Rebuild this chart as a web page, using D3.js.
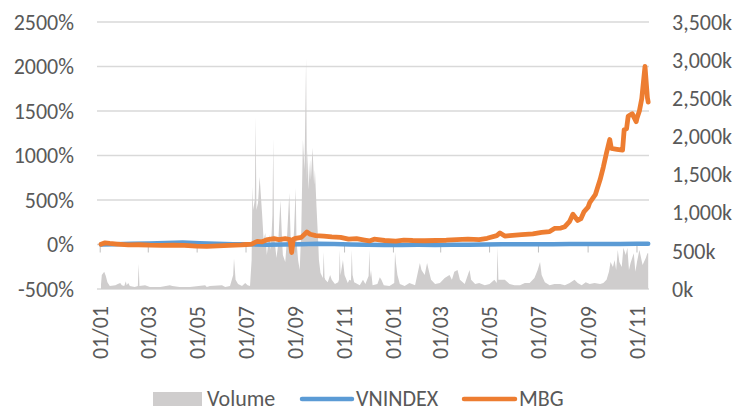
<!DOCTYPE html>
<html><head><meta charset="utf-8">
<script src="https://cdn.jsdelivr.net/npm/d3@7"></script>
<style>
html,body{margin:0;padding:0;background:#fff;}
svg{display:block;}
text{font-family:Carlito, Calibri, Lato, sans-serif;fill:#595959;}
</style></head>
<body><svg id="c" width="739" height="412"></svg>
<script>
// ---------- DATA ----------
const leftTicks = [-500, 0, 500, 1000, 1500, 2000, 2500];           // %
const rightTicks = [0, 500, 1000, 1500, 2000, 2500, 3000, 3500];    // k
const seriesNames = ["Volume", "VNINDEX", "MBG"];

const volDates = ["2020-01-02","2020-01-03","2020-01-06","2020-01-08","2020-01-10","2020-01-13","2020-01-20","2020-01-23","2020-01-26","2020-01-28","2020-01-31",
"2020-02-02","2020-02-03","2020-02-05","2020-02-07","2020-02-13","2020-02-17","2020-02-18","2020-02-19","2020-02-26","2020-03-03","2020-03-16","2020-03-28","2020-03-31",
"2020-04-09","2020-04-22","2020-05-11","2020-05-13","2020-05-17","2020-06-01","2020-06-05","2020-06-11","2020-06-15","2020-06-16","2020-06-18","2020-06-21","2020-06-26","2020-06-30",
"2020-07-03","2020-07-06","2020-07-08","2020-07-09","2020-07-10","2020-07-12","2020-07-13","2020-07-14","2020-07-16","2020-07-18","2020-07-21","2020-07-23","2020-07-25","2020-07-27","2020-07-30",
"2020-08-01","2020-08-03","2020-08-04","2020-08-05","2020-08-08","2020-08-10","2020-08-13","2020-08-15","2020-08-16","2020-08-19","2020-08-21","2020-08-24","2020-08-26","2020-08-28","2020-08-30",
"2020-09-01","2020-09-02","2020-09-04","2020-09-06","2020-09-08","2020-09-10","2020-09-12","2020-09-14","2020-09-15","2020-09-16","2020-09-17","2020-09-19","2020-09-20","2020-09-22","2020-09-24","2020-09-25","2020-09-27","2020-09-29","2020-09-30",
"2020-10-02","2020-10-05","2020-10-06","2020-10-07","2020-10-08","2020-10-11","2020-10-14","2020-10-16","2020-10-20","2020-10-24","2020-10-25","2020-10-26","2020-10-27","2020-10-28","2020-10-30",
"2020-11-01","2020-11-05","2020-11-07","2020-11-09","2020-11-10","2020-11-11","2020-11-13","2020-11-20","2020-11-24","2020-11-27",
"2020-12-01","2020-12-02","2020-12-03","2020-12-04","2020-12-06","2020-12-12","2020-12-15","2020-12-17","2020-12-20","2020-12-27","2020-12-31",
"2021-01-02","2021-01-03","2021-01-04","2021-01-06","2021-01-09","2021-01-15","2021-01-21","2021-01-28",
"2021-02-03","2021-02-05","2021-02-09","2021-02-12","2021-02-14","2021-02-17","2021-02-22","2021-02-28",
"2021-03-06","2021-03-12","2021-03-15","2021-03-18","2021-03-22","2021-03-25","2021-03-31",
"2021-04-06","2021-04-08","2021-04-13","2021-04-18","2021-04-25",
"2021-05-01","2021-05-07","2021-05-10","2021-05-11","2021-05-12","2021-05-20","2021-05-26",
"2021-06-01","2021-06-08","2021-06-14","2021-06-20","2021-06-26","2021-06-30",
"2021-07-03","2021-07-05","2021-07-09","2021-07-15","2021-07-21","2021-07-28",
"2021-08-03","2021-08-09","2021-08-15","2021-08-19","2021-08-24","2021-08-29",
"2021-09-03","2021-09-09","2021-09-16","2021-09-20","2021-09-24","2021-09-27","2021-09-29",
"2021-10-02","2021-10-04","2021-10-06","2021-10-08","2021-10-10","2021-10-13","2021-10-15","2021-10-18","2021-10-20","2021-10-22","2021-10-24","2021-10-28","2021-10-30",
"2021-11-01","2021-11-04","2021-11-08","2021-11-12","2021-11-14","2021-11-15"];
const volume = [60,185,225,170,90,40,50,65,80,50,40,
100,50,80,40,25,40,330,40,50,25,25,50,40,
25,25,50,25,40,50,25,40,185,400,120,65,40,80,
50,40,380,1340,1035,1170,2255,1035,1130,1470,995,640,735,445,710,
510,970,1980,710,405,575,1165,640,445,355,640,1260,575,445,775,
1325,640,380,250,775,1955,1560,3030,1430,1820,1300,1690,1430,1850,1365,1560,1075,640,380,
210,145,485,150,120,90,185,120,65,90,120,510,180,250,380,
185,80,120,110,510,185,90,50,120,65,
170,510,150,250,50,65,155,120,50,40,65,
80,485,355,185,65,40,80,50,
340,250,185,340,250,120,65,80,
145,185,120,225,250,120,65,
250,120,65,80,50,
65,120,80,550,120,120,65,
50,50,80,80,145,250,
355,185,90,50,65,65,
50,80,120,80,50,90,
65,80,65,80,120,225,355,
290,380,250,510,355,290,540,445,540,250,340,470,225,
355,510,315,405,470,470];

const vnDates = ["2020-01-02","2020-01-20","2020-02-10","2020-03-02","2020-03-23","2020-04-13","2020-05-04","2020-05-25","2020-06-15","2020-07-06","2020-07-27",
"2020-08-17","2020-09-07","2020-09-28","2020-10-19","2020-11-09","2020-11-30","2020-12-21","2021-01-11","2021-02-01","2021-02-22","2021-03-15","2021-04-05",
"2021-04-26","2021-05-17","2021-06-07","2021-06-28","2021-07-19","2021-08-09","2021-08-30","2021-09-20","2021-10-11","2021-11-01","2021-11-15"];
const vnindex = [0,3,8,12,18,22,15,8,3,2,-2,
0,3,8,5,0,-3,-5,-5,-4,-5,-3,-2,
0,2,3,4,4,5,6,5,6,8,8];

const mbgDates = ["2020-01-02","2020-01-07","2020-01-13","2020-01-22","2020-02-05","2020-02-18","2020-03-03","2020-03-18","2020-04-01","2020-04-15","2020-04-30",
"2020-05-13","2020-05-27","2020-06-10","2020-06-25","2020-07-01","2020-07-08","2020-07-15","2020-07-21","2020-07-28","2020-08-05","2020-08-11","2020-08-19",
"2020-08-25","2020-08-27","2020-08-29","2020-09-01","2020-09-08","2020-09-15","2020-09-19","2020-09-26","2020-10-06","2020-10-16","2020-10-27","2020-11-06",
"2020-11-16","2020-11-26","2020-12-02","2020-12-08","2020-12-21","2021-01-04","2021-01-14","2021-01-25","2021-02-09","2021-02-23","2021-03-08","2021-03-21",
"2021-04-04","2021-04-18","2021-04-28","2021-05-10","2021-05-14","2021-05-20","2021-05-26","2021-06-10","2021-06-24","2021-07-05","2021-07-15","2021-07-21",
"2021-07-29","2021-08-03","2021-08-09","2021-08-13","2021-08-19","2021-08-23","2021-08-27","2021-09-01","2021-09-03","2021-09-10","2021-09-16","2021-09-20",
"2021-09-24","2021-09-28","2021-09-30","2021-10-07","2021-10-14","2021-10-16","2021-10-19","2021-10-21","2021-10-26","2021-10-31","2021-11-01","2021-11-04",
"2021-11-07","2021-11-11","2021-11-14","2021-11-15"];
const mbg = [3,18,12,5,-5,-3,-8,-10,-8,-10,-18,
-22,-15,-10,-5,0,5,35,30,55,65,55,65,
55,-90,60,70,80,140,115,100,95,85,80,60,
65,50,40,60,45,38,50,45,42,45,48,55,
60,55,70,100,130,95,100,110,120,135,145,180,
185,200,260,340,270,290,370,420,470,560,730,870,
1030,1180,1080,1070,1060,1290,1300,1440,1470,1380,1420,1500,
1640,2000,1650,1600];

// ---------- CHART ----------
const W = 739, H = 412;
const m = {left: 97, right: 649, top: 22, bottom: 289};
const parse = d3.timeParse("%Y-%m-%d");
const svg = d3.select("#c");
svg.append("rect").attr("width", W).attr("height", H).attr("fill", "#fff");

const x = d3.scaleTime().domain([parse("2019-12-28"), parse("2021-11-16")]).range([m.left, m.right]);
const yL = d3.scaleLinear().domain([-500, 2500]).range([m.bottom, m.top]);
const yR = d3.scaleLinear().domain([0, 3500]).range([m.bottom, m.top]);

const colors = {Volume: "#cfcdcd", VNINDEX: "#5b9bd5", MBG: "#ed7d31"};

// gridlines
svg.append("g").selectAll("line").data(leftTicks).join("line")
  .attr("x1", m.left).attr("x2", m.right)
  .attr("y1", d => yL(d)).attr("y2", d => yL(d))
  .attr("stroke", "#d9d9d9").attr("stroke-width", 1.3);

// volume area
const vol = volDates.map((d, i) => ({date: parse(d), v: volume[i]}));
svg.append("path").datum(vol)
  .attr("fill", colors.Volume)
  .attr("d", d3.area().x(d => x(d.date)).y0(yR(0)).y1(d => yR(d.v)));

// x tick marks at 0% line
const xTicks = d3.timeMonth.every(2).range(parse("2020-01-01"), parse("2021-11-02"));
svg.append("g").selectAll("line").data(xTicks).join("line")
  .attr("x1", d => x(d)).attr("x2", d => x(d))
  .attr("y1", yL(0)).attr("y2", yL(0) + 8)
  .attr("stroke", "#bfbfbf").attr("stroke-width", 1);

// lines
const vn = vnDates.map((d, i) => ({date: parse(d), v: vnindex[i]}));
const mb = mbgDates.map((d, i) => ({date: parse(d), v: mbg[i]}));
const line = d3.line().x(d => x(d.date)).y(d => yL(d.v));
svg.append("path").datum(vn).attr("fill", "none").attr("stroke", colors.VNINDEX)
  .attr("stroke-width", 4.5).attr("stroke-linejoin", "round").attr("stroke-linecap", "round").attr("d", line);
svg.append("path").datum(mb).attr("fill", "none").attr("stroke", colors.MBG)
  .attr("stroke-width", 4.8).attr("stroke-linejoin", "round").attr("stroke-linecap", "round").attr("d", line);

// left axis labels
const fs = 22;
svg.append("g").selectAll("text").data(leftTicks).join("text")
  .attr("x", 74).attr("y", d => yL(d)).attr("dy", "0.35em")
  .attr("text-anchor", "end").attr("font-size", fs)
  .text(d => d + "%");

// right axis labels
svg.append("g").selectAll("text").data(rightTicks).join("text")
  .attr("x", 672).attr("y", d => yR(d)).attr("dy", "0.35em")
  .attr("text-anchor", "start").attr("font-size", fs)
  .text(d => d3.format(",")(d) + "k");

// x labels
const fmt = d3.timeFormat("%d/%m");
svg.append("g").selectAll("text").data(xTicks).join("text")
  .attr("transform", d => `translate(${x(d)},306) rotate(-90)`)
  .attr("dy", "0.35em").attr("text-anchor", "end").attr("font-size", fs)
  .text(d => fmt(d));

// legend
const ly = 398;
const lg = svg.append("g");
lg.append("rect").attr("x", 153).attr("y", ly - 6).attr("width", 49).attr("height", 14).attr("fill", colors.Volume);
lg.append("text").attr("x", 207).attr("y", ly).attr("dy", "0.35em").attr("font-size", fs).text(seriesNames[0]);
lg.append("line").attr("x1", 302).attr("x2", 352).attr("y1", ly + 1).attr("y2", ly + 1)
  .attr("stroke", colors.VNINDEX).attr("stroke-width", 4.5).attr("stroke-linecap", "round");
lg.append("text").attr("x", 356).attr("y", ly).attr("dy", "0.35em").attr("font-size", fs).text(seriesNames[1]);
lg.append("line").attr("x1", 464).attr("x2", 515).attr("y1", ly + 1).attr("y2", ly + 1)
  .attr("stroke", colors.MBG).attr("stroke-width", 4.5).attr("stroke-linecap", "round");
lg.append("text").attr("x", 519).attr("y", ly).attr("dy", "0.35em").attr("font-size", fs).text(seriesNames[2]);
</script></body></html>
